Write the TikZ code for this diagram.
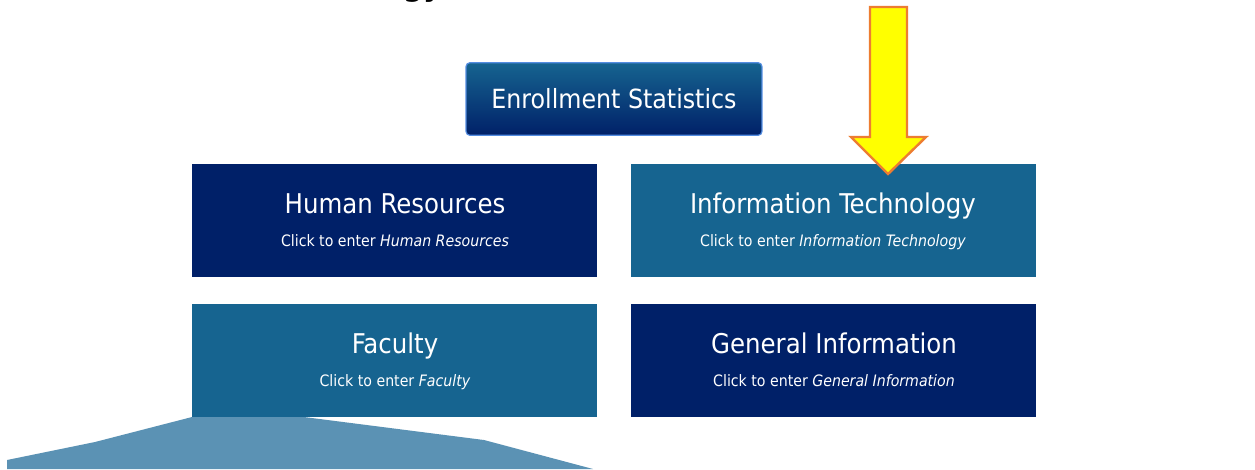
\documentclass[tikz,border=0pt]{standalone}
\usepackage{fontspec}
\setmainfont{DejaVu Sans Condensed}
\definecolor{navybox}{RGB}{0,32,104}
\definecolor{tealbox}{RGB}{22,100,144}
\definecolor{fanblue}{RGB}{91,146,180}
\definecolor{btnedge}{RGB}{84,141,225}
\definecolor{arrowedge}{RGB}{237,125,49}
\definecolor{arrowfill}{RGB}{255,255,0}
\tikzset{
  tile/.style={minimum width=304pt,minimum height=85pt,inner sep=0pt},
  navytile/.style={tile,fill=navybox},
  tealtile/.style={tile,fill=tealbox},
  heading/.style={anchor=base,inner sep=0pt,text=white,font=\fontsize{20.4}{24}\selectfont},
  sub/.style={anchor=base,inner sep=0pt,text=white,font=\fontsize{11.8}{14}\selectfont},
  fan/.style={fill=fanblue,draw=none},
  yarrow/.style={fill=arrowfill,draw=arrowedge,line width=1.8pt,line join=miter},
}
\begin{document}
\begin{tikzpicture}[x=0.75pt,y=-0.75pt]
\useasboundingbox (0,0) rectangle (1255,469);
\clip (0,0) rectangle (1255,469);
\fill[white] (0,0) rectangle (1255,469);
% fan shape
\path[fan] (7,460) -- (95,442) -- (192,417) -- (304,417) -- (484,440) -- (593,469) -- (7,469) -- cycle;
% cut-off text
\node[anchor=base,font=\fontsize{24}{28}\selectfont\bfseries,text=black,inner sep=0pt] (cut) at (423,-5) {gy};
% button
\node[rounded corners=3pt,draw=btnedge,line width=0.9pt,top color=tealbox,bottom color=navybox,
  minimum width=222pt,minimum height=54.5pt,inner sep=0pt] (stats) at (614,99) {};
\node[heading,font=\fontsize{19.8}{24}\selectfont] (statslabel) at (614,108) {Enrollment Statistics};
% tiles
\node[navytile] (hr) at (394.5,220.5) {};
\node[tealtile] (it) at (833.5,220.5) {};
\node[tealtile] (fac) at (394.5,360.5) {};
\node[navytile] (gen) at (833.5,360.5) {};
% tile texts
\node[heading] (hrh) at (395,213) {Human Resources};
\node[sub] (hrs) at (395,246) {Click to enter \textit{Human Resources}};
\node[heading] (ith) at (833,213) {Information Technology};
\node[sub] (its) at (833,246) {Click to enter \textit{Information Technology}};
\node[heading] (fach) at (395,353) {Faculty};
\node[sub] (facs) at (395,386) {Click to enter \textit{Faculty}};
\node[heading] (genh) at (834,353) {General Information};
\node[sub] (gens) at (834,386) {Click to enter \textit{General Information}};
% arrow
\draw[yarrow] (870,7) -- (907,7) -- (907,137) -- (926,137) -- (888,174) -- (851,137) -- (870,137) -- cycle;
\end{tikzpicture}
\end{document}
